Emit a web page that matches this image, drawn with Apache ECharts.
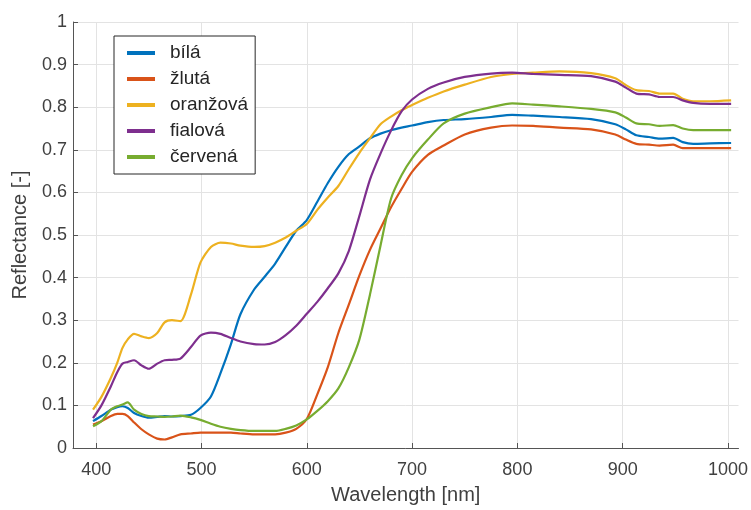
<!DOCTYPE html>
<html>
<head>
<meta charset="utf-8">
<script src="https://cdn.jsdelivr.net/npm/echarts@6/dist/echarts.min.js"></script>
<style>
html,body{margin:0;padding:0;background:#fff;}
#chart{width:751px;height:510px;}
</style>
</head>
<body>
<div id="chart"></div>
<script>
// Wavelength samples [nm]
const wavelengths = [397,405,414,420,425,430,436,443,450,458,465,472,480,490,499,509,518,528,537,550,560,570,580,590,600,610,620,630,640,650,660,670,680,690,700,715,730,750,775,795,815,840,870,893,903,913,925,935,948,957,967,983,1003];

const bila = [0.063,0.075,0.090,0.096,0.098,0.094,0.082,0.075,0.071,0.073,0.075,0.074,0.075,0.078,0.094,0.121,0.175,0.244,0.314,0.372,0.402,0.433,0.472,0.510,0.535,0.578,0.622,0.660,0.690,0.708,0.727,0.738,0.746,0.752,0.757,0.765,0.770,0.772,0.777,0.782,0.780,0.777,0.772,0.760,0.748,0.734,0.730,0.726,0.728,0.718,0.714,0.715,0.716];

const zluta = [0.055,0.063,0.075,0.080,0.080,0.075,0.060,0.044,0.032,0.022,0.020,0.025,0.032,0.034,0.036,0.036,0.036,0.036,0.034,0.032,0.032,0.032,0.036,0.045,0.068,0.126,0.190,0.270,0.337,0.405,0.465,0.515,0.565,0.608,0.648,0.688,0.710,0.736,0.752,0.757,0.756,0.752,0.748,0.736,0.724,0.714,0.712,0.710,0.712,0.704,0.704,0.704,0.704];

const oranzova = [0.090,0.120,0.165,0.200,0.235,0.255,0.268,0.262,0.258,0.270,0.295,0.300,0.298,0.360,0.435,0.472,0.482,0.480,0.475,0.472,0.474,0.482,0.494,0.510,0.526,0.559,0.588,0.615,0.655,0.693,0.727,0.760,0.778,0.793,0.805,0.822,0.837,0.853,0.871,0.878,0.881,0.884,0.880,0.868,0.852,0.840,0.838,0.832,0.832,0.820,0.814,0.814,0.816];

const fialova = [0.070,0.100,0.145,0.178,0.198,0.202,0.206,0.194,0.186,0.198,0.206,0.207,0.210,0.237,0.264,0.271,0.268,0.258,0.250,0.244,0.243,0.249,0.265,0.287,0.315,0.343,0.375,0.410,0.463,0.545,0.630,0.691,0.745,0.790,0.818,0.843,0.858,0.871,0.879,0.881,0.878,0.876,0.873,0.860,0.846,0.832,0.830,0.824,0.824,0.816,0.810,0.808,0.808];

const cervena = [0.051,0.063,0.090,0.098,0.102,0.107,0.090,0.080,0.075,0.074,0.073,0.074,0.076,0.072,0.066,0.057,0.050,0.045,0.042,0.040,0.040,0.040,0.045,0.053,0.067,0.087,0.110,0.140,0.190,0.255,0.360,0.475,0.585,0.640,0.680,0.724,0.762,0.785,0.800,0.809,0.806,0.802,0.796,0.788,0.776,0.762,0.760,0.756,0.758,0.750,0.746,0.746,0.746];

const seriesNames = ['bílá','žlutá','oranžová','fialová','červená'];
const seriesValues = [bila, zluta, oranzova, fialova, cervena];
const seriesColors = ['#0072BD','#D95319','#EDB120','#7E2F8E','#77AC30'];

const xTicks = [400,500,600,700,800,900,1000];

const chart = echarts.init(document.getElementById('chart'), null, {renderer:'canvas'});

const font = '"Liberation Sans", Arial, Helvetica, sans-serif';

chart.setOption({
  animation: false,
  backgroundColor: '#ffffff',
  grid: { left: 73, right: 12, top: 22, bottom: 59, containLabel: false },
  legend: {
    orient: 'vertical',
    left: 114,
    top: 36,
    padding: [7, 7, 7, 13],
    itemGap: 6,
    itemWidth: 38,
    itemHeight: 4,
    icon: 'path://M0,0H28V4H0Z M38,2L38,2',
    backgroundColor: '#ffffff',
    borderColor: '#262626',
    borderWidth: 1,
    borderRadius: 0,
    textStyle: { fontFamily: font, fontSize: 19, color: '#262626', lineHeight: 20 },
    data: seriesNames
  },
  xAxis: {
    type: 'value',
    min: 378,
    max: 1010,
    name: 'Wavelength [nm]',
    nameLocation: 'middle',
    nameGap: 37,
    nameTextStyle: { fontFamily: font, fontSize: 20, color: '#404040' },
    axisLine: { show: true, onZero: false, lineStyle: { color: '#555555', width: 1 } },
    axisTick: { show: true, inside: true, length: 5, customValues: xTicks, lineStyle: { color: '#555555' } },
    axisLabel: { customValues: xTicks, margin: 13, fontFamily: font, fontSize: 18, color: '#404040',
      formatter: v => String(v) },
    splitLine: { show: true, lineStyle: { color: '#e3e3e3', width: 1 } }
  },
  yAxis: {
    type: 'value',
    min: 0,
    max: 1,
    interval: 0.1,
    name: 'Reflectance [-]',
    nameLocation: 'middle',
    nameGap: 43,
    nameTextStyle: { fontFamily: font, fontSize: 20, color: '#404040' },
    axisLine: { show: true, lineStyle: { color: '#555555', width: 1 } },
    axisTick: { show: true, inside: true, length: 5, lineStyle: { color: '#555555' } },
    axisLabel: { margin: 6, fontFamily: font, fontSize: 18, color: '#404040' },
    splitLine: { show: true, lineStyle: { color: '#e3e3e3', width: 1 } }
  },
  series: seriesNames.map((name, i) => ({
    name: name,
    type: 'line',
    showSymbol: false,
    symbol: 'none',
    smooth: 0.25,
    color: seriesColors[i],
    lineStyle: { width: 2.2, color: seriesColors[i] },
    data: wavelengths.map((w, j) => [w, seriesValues[i][j]])
  }))
});
</script>
</body>
</html>
